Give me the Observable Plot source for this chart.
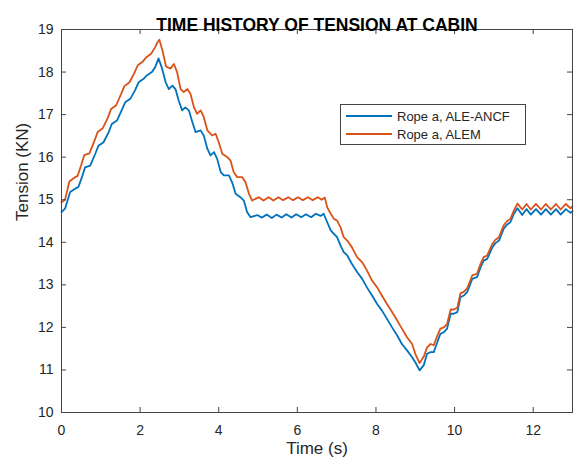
<!DOCTYPE html>
<html>
<head>
<meta charset="utf-8">
<script src="https://cdn.jsdelivr.net/npm/d3@7"></script>
<script src="https://cdn.jsdelivr.net/npm/@observablehq/plot@0.6"></script>
<style>
  html, body { margin: 0; padding: 0; background: #fff; }
  #wrap { position: relative; width: 581px; height: 465px; font-family: "Liberation Sans", Arial, Helvetica, sans-serif; }
  #legend { position: absolute; left: 340px; top: 104px; width: 184px; height: 39px; border: 1px solid #444; background: #fff; font-size: 13px; color: #262626; }
  #legend .row { position: absolute; left: 0; height: 16px; display: flex; align-items: center; }
  #legend .sw { width: 46px; height: 2px; margin-left: 5px; margin-right: 5px; }
</style>
</head>
<body>
<div id="wrap"></div>
<script>
const titleText = "TIME HISTORY OF TENSION AT CABIN";
const xLabel = "Time (s)";
const yLabel = "Tension (KN)";
const seriesNames = ["Rope a, ALE-ANCF", "Rope a, ALEM"];
const seriesColors = ["#0072BD", "#D95319"];
const xTicks = [0, 2, 4, 6, 8, 10, 12];
const yTicks = [10, 11, 12, 13, 14, 15, 16, 17, 18, 19];

// Rope a, ALE-ANCF (blue)
const tBlue = [0.00,0.09,0.22,0.35,0.43,0.52,0.60,0.73,0.86,0.94,1.07,1.20,1.28,1.41,1.53,1.62,1.75,1.87,1.96,2.09,2.17,2.30,2.38,2.47,2.56,2.65,2.73,2.82,2.90,2.98,3.07,3.15,3.24,3.33,3.41,3.54,3.62,3.71,3.79,3.88,3.96,4.05,4.13,4.26,4.34,4.43,4.55,4.64,4.72,4.81,4.98,5.10,5.22,5.35,5.47,5.60,5.72,5.85,5.97,6.10,6.22,6.35,6.47,6.59,6.67,6.76,6.85,6.93,7.01,7.10,7.18,7.27,7.39,7.52,7.65,7.77,7.90,8.03,8.15,8.28,8.41,8.54,8.66,8.79,8.92,9.00,9.11,9.22,9.30,9.39,9.47,9.56,9.64,9.73,9.81,9.90,9.98,10.07,10.15,10.24,10.32,10.45,10.57,10.66,10.74,10.83,10.96,11.04,11.13,11.25,11.34,11.42,11.51,11.60,11.72,11.83,11.94,12.07,12.20,12.32,12.45,12.58,12.70,12.83,12.95,13.00];
const vBlue = [14.71,14.79,15.18,15.26,15.30,15.53,15.76,15.80,16.08,16.27,16.35,16.59,16.78,16.86,17.10,17.29,17.37,17.57,17.76,17.84,17.92,18.00,18.11,18.32,18.08,17.76,17.60,17.68,17.60,17.33,17.10,17.17,17.10,16.82,16.59,16.63,16.51,16.20,16.04,16.12,15.96,15.65,15.57,15.57,15.41,15.14,15.06,14.98,14.71,14.59,14.64,14.58,14.65,14.57,14.65,14.58,14.66,14.58,14.66,14.59,14.66,14.59,14.67,14.62,14.67,14.47,14.28,14.20,14.12,13.92,13.77,13.69,13.49,13.30,13.14,12.94,12.75,12.55,12.40,12.20,12.00,11.81,11.61,11.46,11.30,11.18,10.99,11.12,11.38,11.42,11.42,11.65,11.85,11.89,11.97,12.32,12.32,12.36,12.71,12.75,12.83,13.14,13.18,13.41,13.57,13.61,13.88,13.98,14.04,14.32,14.42,14.47,14.67,14.80,14.64,14.78,14.65,14.78,14.65,14.78,14.65,14.78,14.65,14.78,14.69,14.73];

// Rope a, ALEM (orange)
const tOrange = [0.00,0.09,0.20,0.33,0.41,0.50,0.58,0.71,0.84,0.92,1.05,1.18,1.26,1.39,1.51,1.60,1.73,1.85,1.94,2.07,2.15,2.28,2.38,2.44,2.49,2.57,2.66,2.77,2.86,2.94,3.03,3.11,3.20,3.28,3.37,3.45,3.54,3.62,3.71,3.83,3.92,4.00,4.09,4.22,4.30,4.38,4.47,4.60,4.68,4.77,4.85,5.02,5.14,5.27,5.39,5.52,5.64,5.77,5.89,6.02,6.14,6.27,6.39,6.52,6.62,6.70,6.76,6.85,6.93,7.01,7.10,7.18,7.27,7.39,7.52,7.65,7.77,7.90,8.03,8.15,8.28,8.41,8.54,8.66,8.79,8.92,9.00,9.11,9.22,9.30,9.39,9.47,9.56,9.64,9.73,9.81,9.90,9.98,10.07,10.15,10.24,10.32,10.45,10.57,10.66,10.74,10.83,10.96,11.04,11.13,11.25,11.34,11.42,11.51,11.60,11.72,11.83,11.94,12.07,12.20,12.32,12.45,12.58,12.70,12.83,12.95,13.00];
const vOrange = [14.94,15.00,15.43,15.52,15.56,15.81,16.05,16.09,16.39,16.59,16.68,16.93,17.13,17.22,17.47,17.67,17.76,17.97,18.16,18.25,18.34,18.43,18.58,18.70,18.76,18.50,18.13,18.08,18.19,18.00,17.60,17.53,17.60,17.49,17.17,17.02,17.10,16.94,16.63,16.51,16.55,16.35,16.08,16.00,15.92,15.65,15.53,15.53,15.41,15.14,14.98,15.06,14.98,15.06,14.98,15.06,14.99,15.06,14.99,15.06,14.99,15.06,14.99,15.06,15.00,15.05,14.82,14.67,14.55,14.51,14.35,14.12,14.04,13.88,13.65,13.53,13.34,13.10,12.94,12.75,12.55,12.36,12.16,11.97,11.77,11.61,11.38,11.16,11.32,11.53,11.61,11.58,11.80,11.97,12.00,12.08,12.42,12.42,12.46,12.80,12.84,12.92,13.22,13.26,13.49,13.65,13.69,13.96,14.06,14.12,14.40,14.50,14.55,14.75,14.91,14.77,14.90,14.77,14.90,14.77,14.90,14.77,14.90,14.77,14.90,14.80,14.84];

const blue = tBlue.map((t, i) => ({t, v: vBlue[i]}));
const orange = tOrange.map((t, i) => ({t, v: vOrange[i]}));

const W = 581, H = 465, mL = 61, mR = 9, mT = 29, mB = 53;
const pw = W - mL - mR, ph = H - mT - mB;
const axisColor = "#444";
const textColor = "#262626";

const chart = Plot.plot({
  width: W, height: H,
  marginLeft: mL, marginRight: mR, marginTop: mT, marginBottom: mB,
  style: { fontFamily: "'Liberation Sans', Arial, Helvetica, sans-serif", color: textColor, background: "#fff" },
  x: { domain: [0, 13] },
  y: { domain: [10, 19] },
  marks: [
    Plot.line(blue, { x: "t", y: "v", stroke: seriesColors[0], strokeWidth: 1.8 }),
    Plot.line(orange, { x: "t", y: "v", stroke: seriesColors[1], strokeWidth: 1.8 }),
    Plot.frame({ stroke: axisColor, strokeWidth: 1 }),
    Plot.tickX(xTicks, { x: d => d, stroke: axisColor, insetTop: ph - 5 }),
    Plot.tickX(xTicks, { x: d => d, stroke: axisColor, insetBottom: ph - 5 }),
    Plot.tickY(yTicks, { y: d => d, stroke: axisColor, insetRight: pw - 5 }),
    Plot.tickY(yTicks, { y: d => d, stroke: axisColor, insetLeft: pw - 5 }),
    Plot.axisX(xTicks, { tickSize: 0, tickPadding: 13, fontSize: 14, label: null, fill: textColor }),
    Plot.axisY(yTicks, { tickSize: 0, tickPadding: 8, fontSize: 14, label: null, fill: textColor }),
    Plot.text([xLabel], { text: d => d, frameAnchor: "bottom", dy: 41, fontSize: 17, fill: textColor }),
    Plot.text([yLabel], { text: d => d, frameAnchor: "left", rotate: -90, dx: -39, fontSize: 17, fill: textColor }),
    Plot.text([titleText], { text: d => d, frameAnchor: "top", dy: -11, fontSize: 17.5, fontWeight: "bold", fill: "#000" })
  ]
});

const wrap = document.getElementById("wrap");
wrap.appendChild(chart);

const legend = document.createElement("div");
legend.id = "legend";
seriesNames.forEach((name, i) => {
  const row = document.createElement("div");
  row.className = "row";
  row.style.top = (3 + i * 18) + "px";
  const sw = document.createElement("div");
  sw.className = "sw";
  sw.style.background = seriesColors[i];
  const label = document.createElement("span");
  label.textContent = name;
  row.appendChild(sw);
  row.appendChild(label);
  legend.appendChild(row);
});
wrap.appendChild(legend);
</script>
</body>
</html>
